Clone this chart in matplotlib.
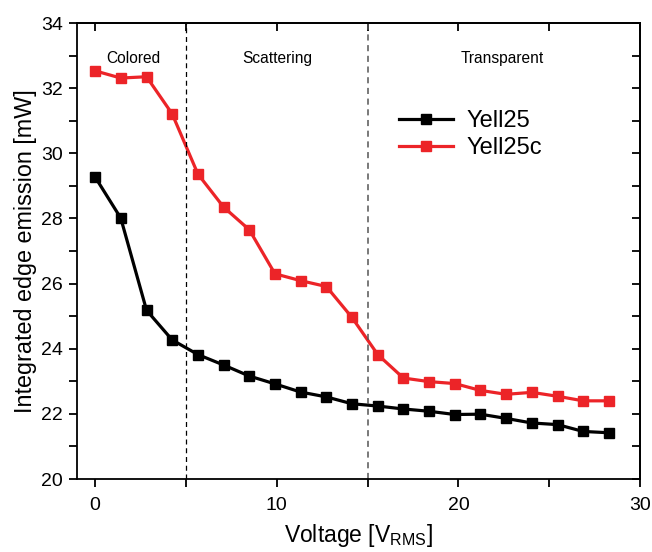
import matplotlib
matplotlib.use("Agg")
import matplotlib.pyplot as plt
from matplotlib.ticker import MultipleLocator

plt.rcParams['font.family'] = ['Liberation Sans', 'DejaVu Sans']

# voltage steps [V_RMS]
voltage = [0.0, 1.41, 2.83, 4.24, 5.66, 7.07, 8.49, 9.90, 11.31, 12.73, 14.14,
           15.56, 16.97, 18.38, 19.80, 21.21, 22.63, 24.04, 25.46, 26.87, 28.28]

yell25 = [29.27, 28.01, 25.18, 24.27, 23.82, 23.50, 23.16, 22.92, 22.67, 22.52,
          22.31, 22.24, 22.15, 22.08, 21.98, 21.99, 21.86, 21.72, 21.67, 21.46, 21.42]

yell25c = [32.53, 32.31, 32.35, 31.21, 29.36, 28.35, 27.65, 26.30, 26.09, 25.91,
           24.96, 23.82, 23.10, 22.99, 22.93, 22.72, 22.60, 22.66, 22.54, 22.40, 22.40]

regions = ["Colored", "Scattering", "Transparent"]
region_x = [2.1, 10.0, 22.4]
boundaries = [5, 15]

fig = plt.figure(figsize=(6.52, 5.52), dpi=100)
ax = fig.add_axes([77 / 652, 1 - 479 / 552, 563 / 652, 456 / 552])

ax.plot(voltage, yell25, color='black', lw=2.3, marker='s', ms=7.5,
        label='Yell25')
ax.plot(voltage, yell25c, color='#ec2428', lw=2.3, marker='s', ms=7.5,
        label='Yell25c')

ax.axvline(boundaries[0], color='black', ls=(0, (4, 3)), lw=0.9)
ax.axvline(boundaries[1], color='#555555', ls=(0, (4, 3)), lw=1.1)

for name, xpos in zip(regions, region_x):
    ax.text(xpos, 32.9, name, ha='center', va='center', fontsize=11.2)

ax.set_xlim(-1, 30)
ax.set_ylim(20, 34)
ax.xaxis.set_major_locator(MultipleLocator(10))
ax.xaxis.set_minor_locator(MultipleLocator(5))
ax.yaxis.set_major_locator(MultipleLocator(2))
ax.yaxis.set_minor_locator(MultipleLocator(1))

for which in ['major', 'minor']:
    ax.tick_params(axis='both', which=which, direction='out', length=6,
                   width=1.3, top=False, right=False)
ax.tick_params(axis='both', labelsize=14)
ax.tick_params(axis='x', pad=7)
ax.tick_params(axis='y', pad=4)

# inward ticks on top and right
top = ax.secondary_xaxis('top')
top.xaxis.set_major_locator(MultipleLocator(5))
top.tick_params(direction='in', length=6, width=1.3, labeltop=False)
top.spines['top'].set_linewidth(1.3)
right = ax.secondary_yaxis('right')
right.yaxis.set_major_locator(MultipleLocator(1))
right.tick_params(direction='in', length=6, width=1.3, labelright=False)
right.spines['right'].set_linewidth(1.3)

for sp in ax.spines.values():
    sp.set_linewidth(1.3)

ax.set_xlabel('Voltage [V$_{\\mathregular{RMS}}$]', fontsize=16.5, labelpad=6)
ax.set_ylabel('Integrated edge emission [mW]', fontsize=16.8, labelpad=3)

ax.legend(loc='upper left', bbox_to_anchor=(0.534, 0.855), frameon=False,
          fontsize=17, handlelength=2.3, handletextpad=0.55, labelspacing=0.2)

fig.savefig('out.png', dpi=100)
